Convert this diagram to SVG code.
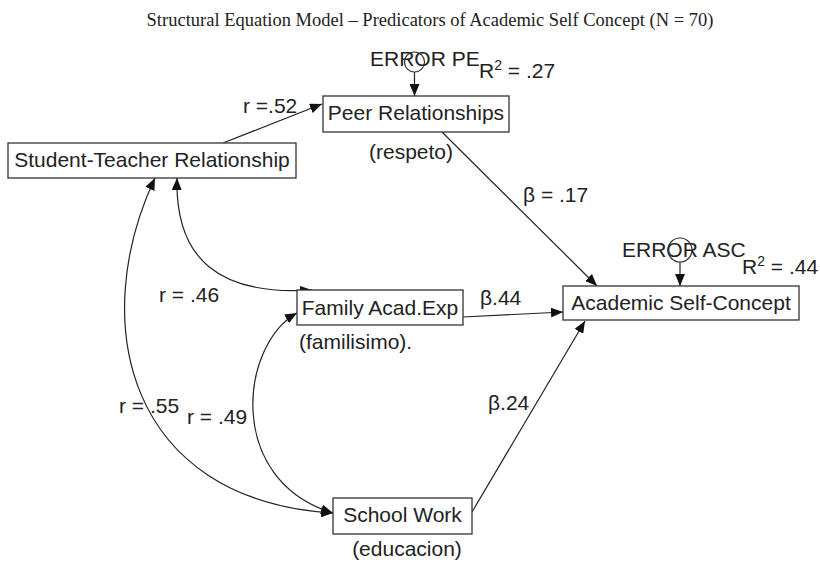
<svg xmlns="http://www.w3.org/2000/svg" width="820" height="565" viewBox="0 0 820 565">
<style>
.t{font-family:"Liberation Sans",Arial,sans-serif;font-size:21px;fill:#222}
.m{text-anchor:middle}
.title{font-family:"Liberation Serif","Times New Roman",serif;font-size:18.5px;fill:#222;text-anchor:middle}
.box{fill:#fff;stroke:#333;stroke-width:1.3}
.err{fill:none;stroke:#333;stroke-width:1.2}
.c{fill:none;stroke:#222;stroke-width:1.2}
.sup{font-size:14px}
</style>
<defs>
<marker id="ah" viewBox="0 0 12 10" refX="12" refY="5" markerWidth="12" markerHeight="10" markerUnits="userSpaceOnUse" orient="auto-start-reverse">
<path d="M0,0 L12,5 L0,10 Z" fill="#111"/>
</marker>
</defs>
<rect width="820" height="565" fill="#fff"/>
<text class="title" x="430" y="26">Structural Equation Model – Predicators of Academic Self Concept (N = 70)</text>

<g id="connectors">
<line class="c" x1="223" y1="143" x2="322" y2="104" marker-end="url(#ah)"/>
<line class="c" x1="442" y1="132" x2="597" y2="286" marker-end="url(#ah)"/>
<line class="c" x1="463" y1="317" x2="563" y2="312" marker-end="url(#ah)"/>
<line class="c" x1="472" y1="512" x2="585" y2="321" marker-end="url(#ah)"/>
<line class="c" x1="414.5" y1="72" x2="414.5" y2="96" marker-end="url(#ah)"/>
<line class="c" x1="680" y1="262" x2="680" y2="286" marker-end="url(#ah)"/>
<path class="c" d="M177,178 C175,260 220,296 312,290" marker-start="url(#ah)" marker-end="url(#ah)"/>
<path class="c" d="M155,178 C88,320 125,500 333,513" marker-start="url(#ah)" marker-end="url(#ah)"/>
<path class="c" d="M297,313 C240,345 225,480 333,513" marker-start="url(#ah)" marker-end="url(#ah)"/>
<text class="t" x="243" y="113">r =.52</text>
<text class="t" x="523" y="202">β = .17</text>
<text class="t" x="159" y="302">r = .46</text>
<text class="t" x="480" y="305">β.44</text>
<text class="t" x="488" y="410">β.24</text>
<text class="t" x="119" y="413">r = .55</text>
<text class="t" x="187" y="424">r = .49</text>
</g>

<g id="error-pe">
<text class="t" x="370" y="66">ERROR PE</text>
<circle class="err" cx="414.5" cy="62" r="10"/>
<text class="t" x="479" y="78">R<tspan class="sup" dy="-8">2</tspan><tspan dy="8"> = .27</tspan></text>
</g>

<g id="error-asc">
<text class="t" x="622" y="257">ERROR ASC</text>
<circle class="err" cx="680" cy="250" r="12"/>
<text class="t" x="742" y="274">R<tspan class="sup" dy="-8">2</tspan><tspan dy="8"> = .44</tspan></text>
</g>

<g id="student-teacher">
<rect class="box" x="8" y="143" width="288" height="35"/>
<text class="t m" x="152" y="167">Student-Teacher Relationship</text>
</g>

<g id="peer">
<rect class="box" x="323" y="96" width="186" height="36"/>
<text class="t m" x="416" y="120">Peer Relationships</text>
<text class="t m" x="411" y="159">(respeto)</text>
</g>

<g id="family">
<rect class="box" x="297" y="290" width="166" height="35"/>
<text class="t m" x="380" y="315">Family Acad.Exp</text>
<text class="t" x="299" y="349">(familisimo).</text>
</g>

<g id="asc">
<rect class="box" x="563" y="286" width="236" height="34"/>
<text class="t m" x="681" y="310">Academic Self-Concept</text>
</g>

<g id="school">
<rect class="box" x="333" y="498" width="139" height="36"/>
<text class="t m" x="402.5" y="522">School Work</text>
<text class="t m" x="407" y="556">(educacion)</text>
</g>
</svg>
